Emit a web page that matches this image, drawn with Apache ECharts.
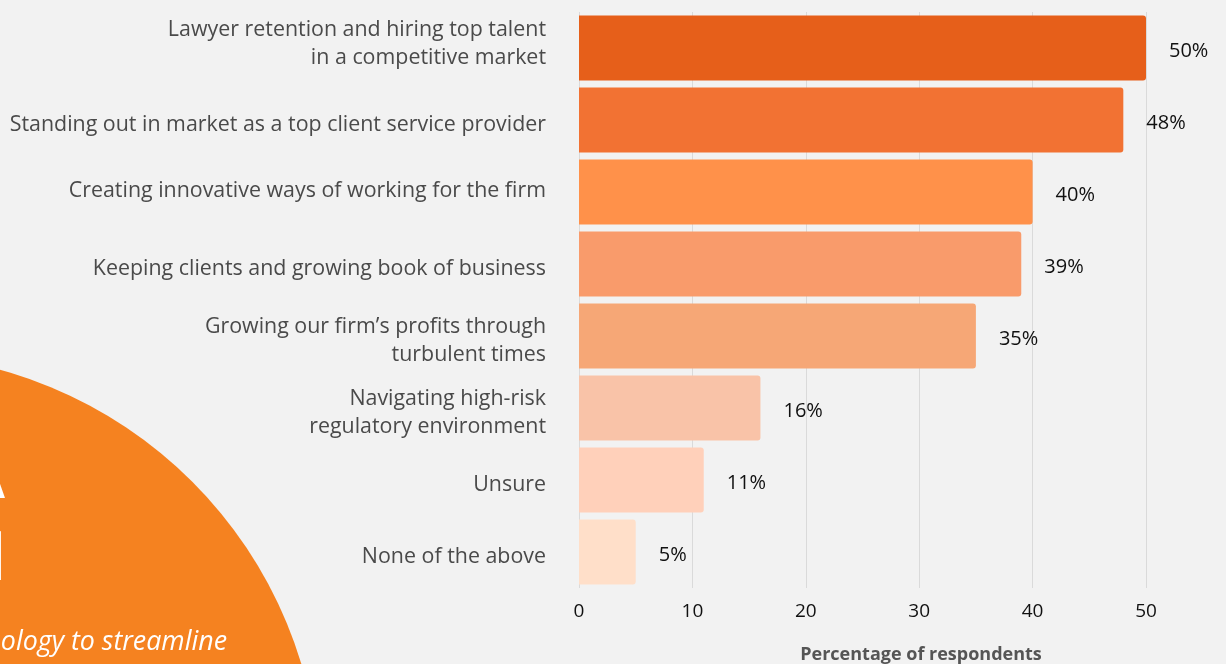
<!DOCTYPE html>
<html>
<head>
<meta charset="utf-8">
<style>
  html, body { margin: 0; padding: 0; background: #f2f2f2; }
  #chart { width: 1226px; height: 664px; }
</style>
<script src="https://cdn.jsdelivr.net/npm/echarts@6/dist/echarts.min.js"></script>
</head>
<body>
<div id="chart"></div>
<script>
// Survey answers, top to bottom
const categories = [
  'Lawyer retention and hiring top talent\nin a competitive market',
  'Standing out in market as a top client service provider',
  'Creating innovative ways of working for the firm',
  'Keeping clients and growing book of business',
  'Growing our firm\u2019s profits through\nturbulent times',
  'Navigating high-risk\nregulatory environment',
  'Unsure',
  'None of the above'
];
const values = [50, 48, 40, 39, 35, 16, 11, 5];
const barColors = ['#e65f1a', '#f27233', '#ff914a', '#f99b6b', '#f6a776', '#f9c3a8', '#ffd0ba', '#ffdfc9'];
const xTicks = [0, 10, 20, 30, 40, 50];
const axisTitle = 'Percentage of respondents';

const FONT = '"Open Sans", sans-serif';

// rich style per label: most sit slightly below the bar centre; the first and third are raised
const labelStyleKey = i => (i === 0 ? 'f' : i === 2 ? 'm' : 'l');
const labelBase = { color: '#4a4a4a', fontFamily: FONT, fontSize: 21.4, lineHeight: 28 };

const chart = echarts.init(document.getElementById('chart'), null, { renderer: 'canvas' });

chart.setOption({
  backgroundColor: '#f2f2f2',
  animation: false,
  graphic: [
    {
      type: 'circle',
      z: -10,
      silent: true,
      shape: { cx: -116, cy: 790, r: 436 },
      style: { fill: '#f58220' }
    },
    {
      type: 'text',
      z: -9,
      silent: true,
      style: {
        text: 'A', x: 5, y: 513, align: 'right', verticalAlign: 'bottom',
        fill: '#ffffff', font: 'bold 68px ' + FONT
      }
    },
    {
      type: 'text',
      z: -9,
      silent: true,
      style: {
        text: 'I', x: 7, y: 595, align: 'right', verticalAlign: 'bottom',
        fill: '#ffffff', font: 'bold 68px ' + FONT
      }
    },
    {
      type: 'text',
      z: -9,
      silent: true,
      style: {
        text: 'technology to streamline', x: 227, y: 642, align: 'right', verticalAlign: 'middle',
        fill: '#ffffff', font: 'italic 26.8px ' + FONT
      }
    },
    {
      type: 'text',
      silent: true,
      style: {
        text: axisTitle, x: 921, y: 655, align: 'center', verticalAlign: 'middle',
        fill: '#555555', font: 'bold 18px ' + FONT
      }
    }
  ],
  grid: { left: 579, right: 80, top: 12, bottom: 76, containLabel: false },
  xAxis: {
    type: 'value',
    min: 0,
    max: 50,
    interval: 10,
    axisLine: { show: false },
    axisTick: { show: false },
    splitLine: { show: true, lineStyle: { color: '#dadada', width: 1 } },
    axisLabel: {
      margin: 14,
      color: '#111111',
      fontFamily: FONT,
      fontSize: 19,
      formatter: v => (xTicks.indexOf(v) >= 0 ? String(v) : '')
    }
  },
  yAxis: {
    type: 'category',
    inverse: true,
    data: categories,
    axisLine: { show: false },
    axisTick: { show: false },
    axisLabel: {
      margin: 33,
      align: 'right',
      formatter: (v, i) => v.split('\n').map(s => '{' + labelStyleKey(i) + '|' + s + '}').join('\n'),
      rich: {
        l: Object.assign({ padding: [9, 0, 0, 0] }, labelBase),
        f: Object.assign({ padding: [0, 0, 9, 0] }, labelBase),
        m: Object.assign({ padding: [3, 0, 6, 0] }, labelBase)
      }
    }
  },
  series: [{
    type: 'bar',
    barWidth: 65,
    data: values.map((v, i) => ({ value: v, itemStyle: { color: barColors[i] } })),
    itemStyle: { borderRadius: [0, 3, 3, 0] },
    label: {
      show: true,
      position: 'right',
      distance: 23,
      offset: [0, 3],
      color: '#111111',
      fontFamily: FONT,
      fontSize: 20,
      formatter: p => p.value + '%'
    }
  }]
});
</script>
</body>
</html>
